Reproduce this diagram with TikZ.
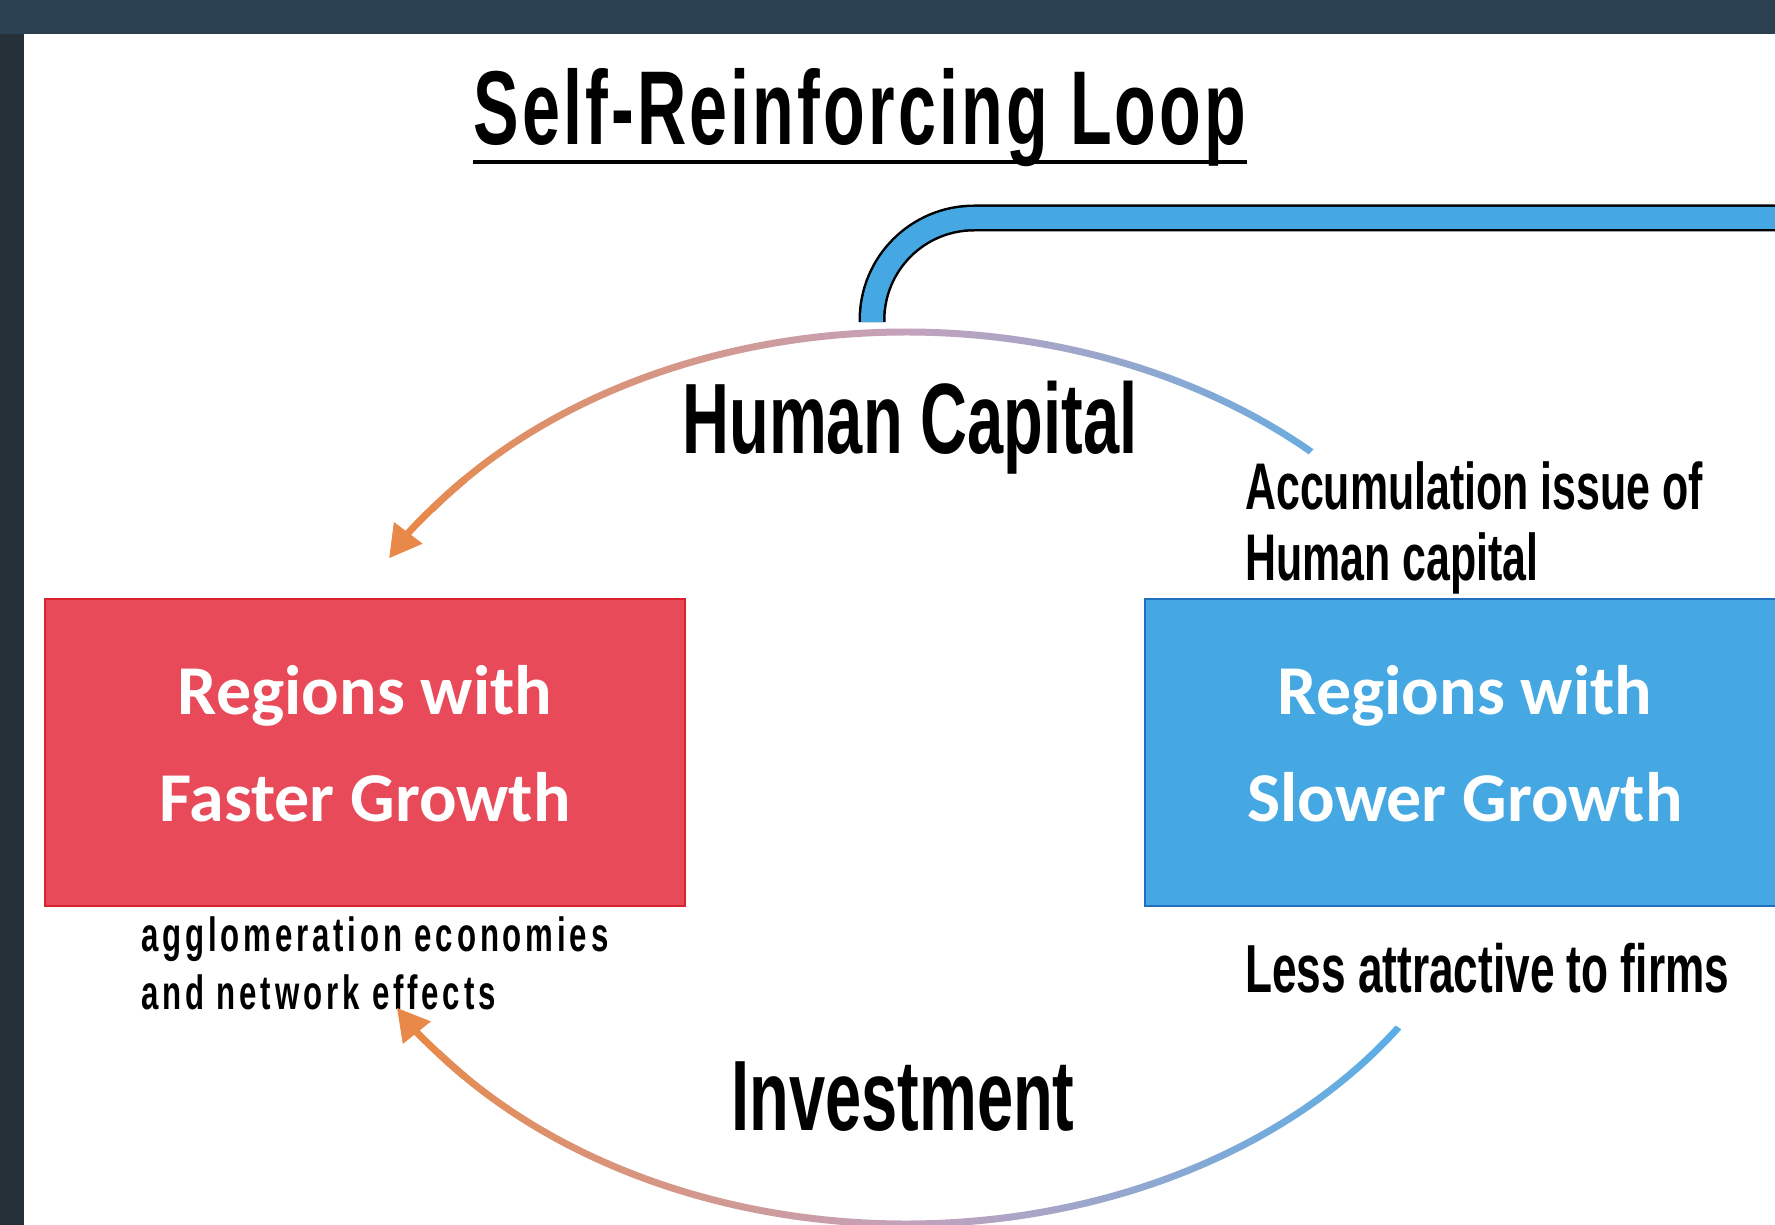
\documentclass[tikz,border=0pt]{standalone}
\usepackage{fontspec}
\setmainfont{Liberation Sans}
\newfontfamily\agency[FakeStretch=0.65]{Liberation Sans}
\newfontfamily\agencywide[FakeStretch=0.65,LetterSpace=3]{Liberation Sans}
\newfontfamily\agencyloose[FakeStretch=0.65,LetterSpace=8]{Liberation Sans}
\newfontfamily\calib{Carlito}
\usetikzlibrary{arrows.meta}
\definecolor{slate}{HTML}{2B4152}
\definecolor{slatedark}{HTML}{263039}
\definecolor{fastred}{HTML}{E84A5A}
\definecolor{fastedge}{HTML}{D9232E}
\definecolor{slowblue}{HTML}{45A8E2}
\definecolor{slowedge}{HTML}{1F70BF}
\definecolor{looporange}{HTML}{E8894A}
\definecolor{loopmauve}{HTML}{C4A2BC}
\definecolor{loopblue}{HTML}{55AEE8}
\tikzset{
  region/.style={draw, line width=2, minimum width=640, minimum height=307, inner sep=0,
    align=center, text=white, text depth=18, font=\calib\bfseries\fontsize{70}{107}\selectfont},
  heading/.style={inner sep=0, font=\agency\bfseries\fontsize{100}{100}\selectfont},
  remark/.style={inner sep=0, align=left, font=\agency\bfseries\fontsize{66}{71}\selectfont},
  loophead/.style={looporange, line width=7, -{Triangle[length=32pt,width=34pt]}},
  loopshade/.style={left color=looporange, right color=loopblue, middle color=loopmauve},
}
\begin{document}
\begin{tikzpicture}[x=1pt,y=-1pt]
	\useasboundingbox (0,0) rectangle (1775,1225);
	\fill[slate] (0,0) rectangle (1775,1225);
	\fill[slatedark] (0,34) rectangle (24,1225);
	\fill[white] (24,34) rectangle (1775,1225);

	% the two kinds of region
	\node (fast) at (365,752.5)	[region, fill=fastred, draw=fastedge]	{Regions with\\Faster Growth};
	\node (slow) at (1465,752.5)	[region, fill=slowblue, draw=slowedge]	{Regions with\\Slower Growth};

	% texts (base of a two-line node = its last line)
	\node (title) at (860,145)	[heading, anchor=base, font=\agencywide\bfseries\fontsize{105}{105}\selectfont]	{Self-Reinforcing Loop};
	\draw[line width=4] ([yshift=-17pt]title.base west) -- ([yshift=-17pt]title.base east);
	\node (hc) at (910,453)	[heading, anchor=base]	{Human Capital};
	\node (inv) at (903,1130)	[heading, anchor=base]	{Investment};
	\node (accum) at (1245,580)	[remark, anchor=base west]	{Accumulation issue of\\Human capital};
	\node (less) at (1245,992)	[remark, anchor=base west, font=\agency\bfseries\fontsize{68}{71}\selectfont]	{Less attractive to firms};
	\node (agglo) at (141,1009)	[remark, anchor=base west, font=\agencyloose\bfseries\fontsize{48}{58}\selectfont]	{agglomeration economies\\and network effects};

	% blue band leaving the loop
	\coordinate (link) at (872,322);
	\draw[line width=2.5, double=slowblue, double distance=22, rounded corners=102] (link) |- (1790,218);

	% the loop, shaded from orange to blue
	\coordinate (O) at (906,778);
	\draw[loophead] (O) ++(222:594 and 446) arc[start angle=222, end angle=209.5, x radius=594, y radius=446];
	\draw[loophead] (O) ++(138:594 and 446) arc[start angle=138, end angle=149, x radius=594, y radius=446];
	\begin{scope}
		\clip (O) ++(313:597.5 and 449.5) arc[start angle=313, end angle=217, x radius=597.5, y radius=449.5]
			-- ++(217:-7) arc[start angle=217, end angle=313, x radius=590.5, y radius=442.5] -- cycle;
		\shade[loopshade] (396,300) rectangle (1416,600);
	\end{scope}
	\begin{scope}
		\clip (O) ++(34:597.5 and 449.5) arc[start angle=34, end angle=142, x radius=597.5, y radius=449.5]
			-- ++(142:-7) arc[start angle=142, end angle=34, x radius=590.5, y radius=442.5] -- cycle;
		\shade[loopshade] (396,950) rectangle (1416,1240);
	\end{scope}
\end{tikzpicture}
\end{document}
